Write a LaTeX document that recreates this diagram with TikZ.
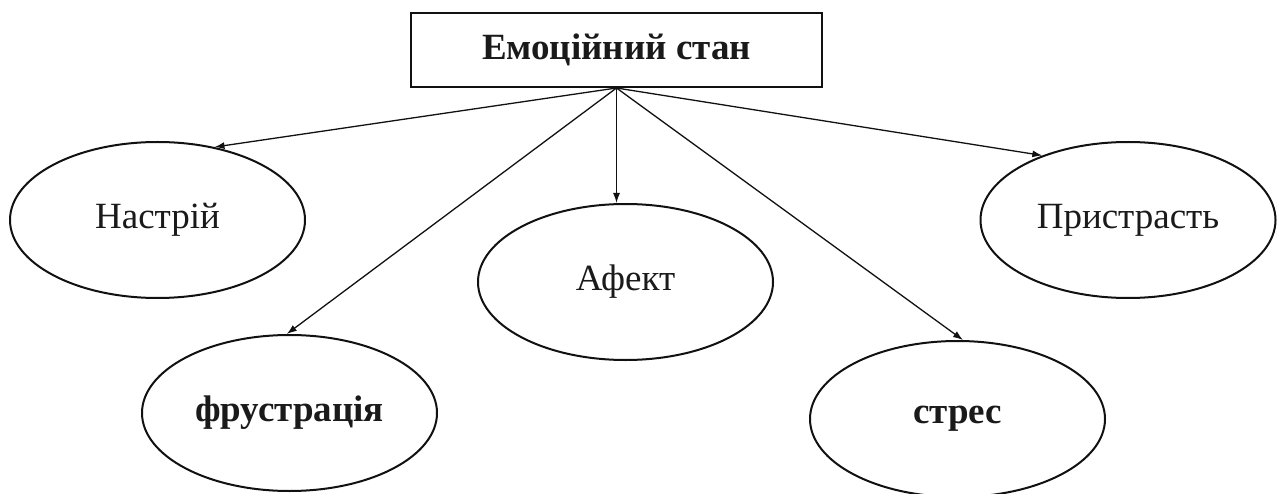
\documentclass[tikz,border=0pt]{standalone}
\usepackage{fontspec}
\setmainfont{Liberation Serif}
\usepackage{tikz}
\usetikzlibrary{arrows.meta,positioning,shapes.geometric}
\usepackage{xcolor}
\definecolor{inkline}{HTML}{111111}
\definecolor{darktext}{HTML}{1A1A1A}

\begin{document}
\begin{tikzpicture}[
  x=1pt, y=-1pt,
  topbox/.style={rectangle, draw=inkline, line width=2pt,
                 minimum width=411pt, minimum height=74pt,
                 font=\fontsize{37}{40}\selectfont\bfseries, text=darktext},
  oval/.style={ellipse, draw=inkline, line width=2pt, inner sep=0pt,
               minimum width=295pt, minimum height=156pt,
               font=\fontsize{37}{40}\selectfont, text=darktext},
  boldoval/.style={oval, font=\fontsize{37}{40}\selectfont\bfseries},
  link/.style={-{Latex[length=10pt, width=7pt]}, line width=1.3pt, color=inkline},
]
  \useasboundingbox (0,0) rectangle (1281,494);

  \node[topbox] (root) at (616.5,50) {Емоційний стан};

  \node[oval] (nastrij) at (157.5,220) {Настрій};
  \node[oval] (afekt) at (625.5,282) {Афект};
  \node[oval] (prystrast) at (1128,220) {Пристрасть};
  \node[boldoval] (frustr) at (289.5,413) {фрустрація};
  \node[boldoval] (stres) at (957.5,419) {стрес};

  % arrows from the bottom of the box
  \draw[link] (root.south) -- (nastrij.52);
  \draw[link] (root.south) -- (frustr.92);
  \draw[link] (root.south) -- (root.south |- afekt.north);
  \draw[link] (root.south) -- (stres.86);
  \draw[link] (root.south) -- (prystrast.143);
\end{tikzpicture}
\end{document}
